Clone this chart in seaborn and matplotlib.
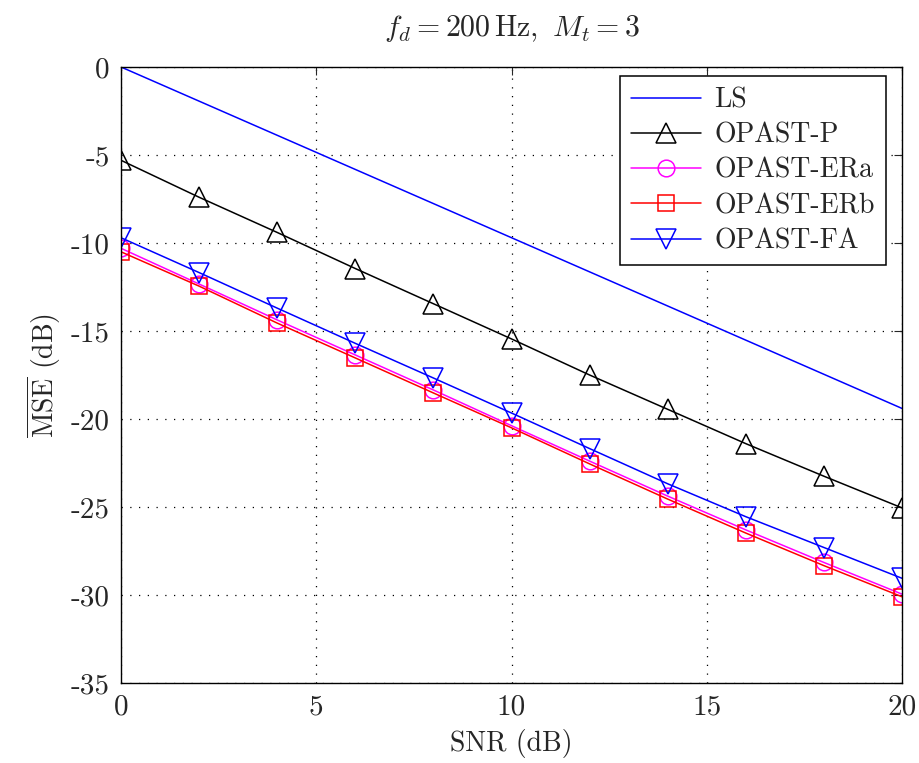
import matplotlib
matplotlib.use("Agg")
import matplotlib.pyplot as plt
import seaborn as sns
import numpy as np

# SNR points (dB)
snr = [0, 2, 4, 6, 8, 10, 12, 14, 16, 18, 20]

# MSE values (dB)
mse_ls = [0.0, -1.94, -3.88, -5.82, -7.76, -9.70, -11.64, -13.58, -15.52, -17.46, -19.40]
mse_p = [-5.3, -7.4, -9.4, -11.45, -13.45, -15.45, -17.5, -19.45, -21.4, -23.25, -25.05]
mse_era = [-10.3, -12.33, -14.37, -16.36, -18.35, -20.38, -22.39, -24.38, -26.3, -28.15, -29.95]
mse_erb = [-10.5, -12.45, -14.55, -16.53, -18.52, -20.5, -22.55, -24.55, -26.48, -28.33, -30.1]
mse_fa = [-9.7, -11.68, -13.7, -15.7, -17.67, -19.66, -21.68, -23.68, -25.55, -27.3, -29.05]

sns.set_style("white")
plt.rcParams['font.family'] = 'serif'
plt.rcParams['font.serif'] = ['cmr10', 'DejaVu Serif']
plt.rcParams['mathtext.fontset'] = 'cm'
plt.rcParams['axes.unicode_minus'] = False
plt.rcParams['axes.formatter.use_mathtext'] = False

fig = plt.figure(figsize=(9.2, 7.63), dpi=100)
ax = fig.add_axes([0.1315, 0.1048, 0.849, 0.8074])

lw = 1.1
sns.lineplot(x=snr, y=mse_ls, color=(0, 0, 1), lw=lw, label='LS', ax=ax)
sns.lineplot(x=snr, y=mse_p, color='black', lw=lw, marker='^', markersize=14,
             markerfacecolor='none', markeredgecolor='black', markeredgewidth=1.1,
             label='OPAST-P', ax=ax)
sns.lineplot(x=snr, y=mse_era, color=(1, 0, 1), lw=lw, marker='o', markersize=12,
             markerfacecolor='none', markeredgecolor=(1, 0, 1), markeredgewidth=1.1,
             label='OPAST-ERa', ax=ax)
sns.lineplot(x=snr, y=mse_erb, color=(1, 0, 0), lw=lw, marker='s', markersize=11,
             markerfacecolor='none', markeredgecolor=(1, 0, 0), markeredgewidth=1.1,
             label='OPAST-ERb', ax=ax)
sns.lineplot(x=snr, y=mse_fa, color=(0, 0, 1), lw=lw, marker='v', markersize=14,
             markerfacecolor='none', markeredgecolor=(0, 0, 1), markeredgewidth=1.1,
             label='OPAST-FA', ax=ax)

ax.set_xlim(0, 20)
ax.set_ylim(-35, 0)
ax.set_xticks([0, 5, 10, 15, 20])
ax.set_yticks([-35, -30, -25, -20, -15, -10, -5, 0])
ax.tick_params(direction='in', top=True, right=True, length=6, width=0.8,
               labelsize=21, pad=8)
ax.grid(True, linestyle=(0, (1, 6)), color='black', linewidth=0.9)
for s in ax.spines.values():
    s.set_visible(True)
    s.set_color('black')
    s.set_linewidth(1.0)

ax.set_xlabel('SNR (dB)', fontsize=20, labelpad=6)
ax.set_ylabel(r'$\overline{\mathrm{MSE}}$ (dB)', fontsize=20, labelpad=6)
ax.set_title(r'$f_d = 200\,\mathrm{Hz},\ M_t = 3$', fontsize=21.5, pad=22)

leg = ax.legend(loc='upper right', bbox_to_anchor=(0.9795, 0.9854),
                fontsize=20, frameon=True, fancybox=False,
                framealpha=1, edgecolor='black', borderaxespad=0,
                handlelength=2.5, labelspacing=0.32, borderpad=0.4,
                handletextpad=0.5)
leg.get_frame().set_linewidth(1.1)

fig.savefig('out.png', dpi=100)
